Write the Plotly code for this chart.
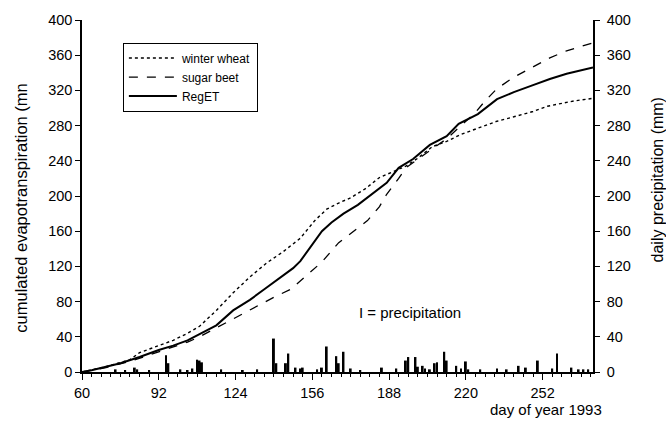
import plotly.graph_objects as go

# Cumulated evapotranspiration (mm) by day of year 1993
reget_days = [60, 64, 70, 76, 84, 92, 98, 104, 109, 116, 123, 130, 136, 142, 148, 151, 156, 160, 164, 169,
              175, 181, 187, 192, 198, 205, 212, 217, 225, 233, 240, 248, 255, 262, 268, 273]
reget_vals = [0, 2, 6, 10, 17, 25, 30, 36, 43, 53, 70, 82, 94, 106, 118, 126, 145, 160, 170, 180,
              190, 202, 215, 232, 242, 258, 268, 282, 293, 310, 318, 326, 333, 339, 343, 346]

beet_days = [60, 70, 80, 90, 98, 104, 109, 116, 121, 127, 134, 140, 147, 155, 160, 167, 173, 179, 184, 187,
             192, 195, 200, 206, 212, 218, 224, 228, 233, 240, 248, 255, 262, 268, 273]
beet_vals = [0, 5, 12, 21, 28, 34, 40, 50, 58, 66, 76, 85, 94, 113, 125, 147, 160, 172, 188, 202,
             220, 232, 242, 254, 265, 280, 295, 308, 322, 335, 347, 357, 365, 370, 374]

wheat_days = [60, 70, 80, 84, 92, 98, 104, 109, 116, 123, 130, 137, 144, 151, 157, 162, 167, 172, 178, 184,
              190, 195, 200, 206, 212, 218, 225, 233, 240, 248, 254, 259, 265, 273]
wheat_vals = [0, 6, 14, 22, 30, 36, 44, 52, 70, 90, 108, 124, 137, 152, 172, 185, 192, 198, 208, 221,
              228, 234, 243, 256, 262, 270, 277, 285, 290, 296, 302, 305, 308, 311]

# Daily precipitation (mm)
precip_days = [74, 78, 82, 83, 88, 95, 96, 101, 104, 106, 108, 109, 110, 118, 127, 133, 140, 141, 145, 146,
               149, 151, 152, 158, 160, 162, 166, 167, 169, 172, 176, 185, 191, 195, 196, 199, 200, 202, 203,
               205, 207, 208, 211, 212, 216, 218, 220, 221, 226, 233, 237, 242, 245, 250, 256, 258, 264,
               267, 269, 271]
precip_vals = [3, 2, 5, 3, 2, 19, 10, 3, 2, 4, 14, 13, 11, 3, 2, 3, 38, 10, 10, 21,
               5, 4, 5, 3, 5, 29, 18, 10, 23, 4, 2, 5, 4, 13, 17, 17, 6, 7, 4,
               3, 10, 11, 23, 13, 7, 4, 12, 3, 3, 4, 3, 7, 5, 13, 4, 21, 5,
               3, 3, 3]

x_ticks = [60, 92, 124, 156, 188, 220, 252]
y_ticks = [0, 40, 80, 120, 160, 200, 240, 280, 320, 360, 400]

FONT = "Liberation Sans, Arial, sans-serif"

fig = go.Figure()
fig.add_trace(go.Bar(x=precip_days, y=precip_vals, yaxis="y2", width=0.8,
                     marker=dict(color="black", line=dict(width=0)), showlegend=False))
fig.add_trace(go.Scatter(x=wheat_days, y=wheat_vals, mode="lines", name="winter wheat",
                         legendgroup="a", line=dict(color="black", width=1.4, dash="dot")))
fig.add_trace(go.Scatter(x=beet_days, y=beet_vals, mode="lines", name="sugar beet",
                         legendgroup="b", line=dict(color="black", width=1.3, dash="dash")))
fig.add_trace(go.Scatter(x=reget_days, y=reget_vals, mode="lines", name="RegET",
                         legendgroup="c", line=dict(color="black", width=2)))

yax_common = dict(range=[0, 400], tickvals=y_ticks, tickcolor="black", showgrid=False, zeroline=False)

fig.update_layout(
    width=666, height=428,
    margin=dict(l=82, r=73, t=12, b=56),
    paper_bgcolor="white", plot_bgcolor="white",
    font=dict(family=FONT, size=15, color="black"),
    showlegend=True,
    legend=dict(x=0.08, y=0.936, xanchor="left", yanchor="top",
                bordercolor="black", borderwidth=1, bgcolor="white", itemwidth=48,
                font=dict(size=12), tracegroupgap=3, traceorder="normal"),
    xaxis=dict(range=[60, 273], tickvals=x_ticks, ticks="outside", ticklen=6,
               tickcolor="black", showline=True, linecolor="black", linewidth=1.5,
               showgrid=False, zeroline=False, ticklabelstandoff=1,
               tickfont=dict(size=14.5),
               minor=dict(dtick=4, tick0=60, ticks="outside", ticklen=3, tickcolor="black",
                          showgrid=False)),
    xaxis2=dict(range=[60, 273], overlaying="x", side="top", showline=True,
                linecolor="#555555", linewidth=1, ticks="", showticklabels=False,
                showgrid=False, zeroline=False),
    yaxis=dict(**yax_common, ticks="outside", ticklen=5, showline=True, linecolor="black",
               linewidth=1.5, tickfont=dict(size=14.5)),
    yaxis2=dict(**yax_common, ticks="outside", ticklen=5, showline=True, linecolor="black",
                linewidth=1.5, overlaying="y", side="right", tickfont=dict(size=14.5),
                ticklabelstandoff=4),
    yaxis3=dict(**yax_common, ticks="inside", ticklen=5, showticklabels=False,
                overlaying="y", side="left", showline=False),
    yaxis4=dict(**yax_common, ticks="inside", ticklen=5, showticklabels=False,
                overlaying="y", side="right", showline=False),
    annotations=[
        dict(text="cumulated evapotranspiration (mn", x=-0.1194, y=0.4667,
             xref="paper", yref="paper", textangle=-90, xanchor="center", yanchor="middle",
             showarrow=False, font=dict(size=16.5)),
        dict(text="daily precipitation (mm)", x=1.1252, y=0.547,
             xref="paper", yref="paper", textangle=-90, xanchor="center", yanchor="middle",
             showarrow=False, font=dict(size=16)),
        dict(text="I = precipitation", x=174.6, y=68, xref="x", yref="y",
             xanchor="left", yanchor="middle", showarrow=False, font=dict(size=15)),
        dict(text="day of year 1993", x=1.0215, y=-0.1056, xref="paper", yref="paper",
             xanchor="right", yanchor="middle", showarrow=False, font=dict(size=15)),
    ],
)

# remove the default page margin so the 666x428 figure fills the window exactly
fig.write_html("out.html",
               config={"displayModeBar": False},
               post_script="document.body.style.margin='0';document.body.style.overflow='hidden';")
